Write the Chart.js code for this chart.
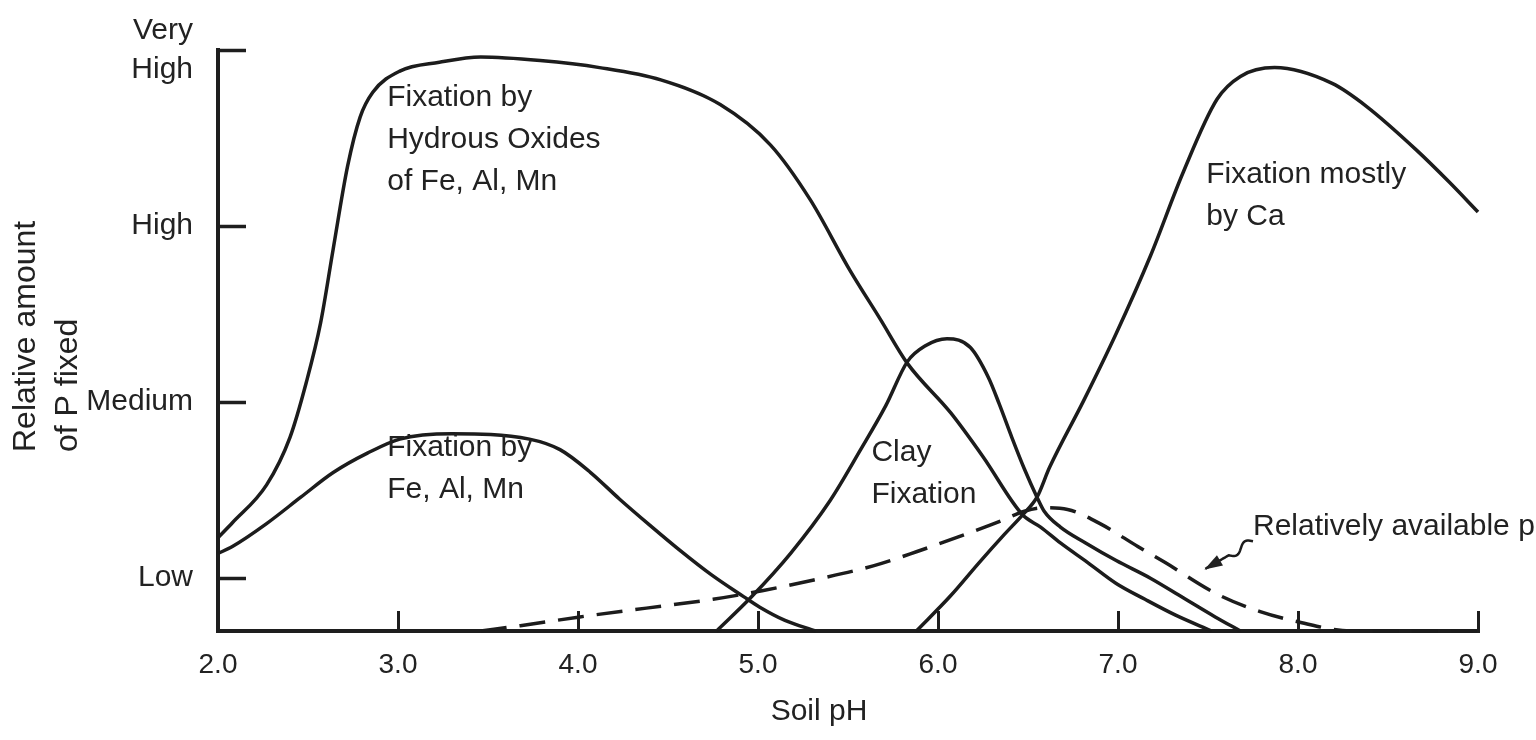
<!DOCTYPE html>
<html>
<head>
<meta charset="utf-8">
<title>Relative amount of P fixed vs soil pH</title>
<script src="https://cdn.jsdelivr.net/npm/chart.js@4.4.1/dist/chart.umd.min.js"></script>
<style>
  html, body { margin: 0; padding: 0; background: #fff; }
  #wrap { width: 1536px; height: 740px; position: relative; }
</style>
</head>
<body>
<div id="wrap"><canvas id="chart"></canvas></div>
<script>
// Axes
const xTicks = [2, 3, 4, 5, 6, 7, 8, 9];
const yTicks = [1, 2, 3, 4];
const yTickLabels = ['Low', 'Medium', 'High', ['Very', 'High']];

// Curves: x = soil pH, y = relative amount (1 Low .. 4 Very High, 0.7 = axis floor)
const hydrousPH  = [2.00, 2.08, 2.27, 2.40, 2.49, 2.57, 2.64, 2.72, 2.79, 2.86, 3.01, 3.23, 3.46, 3.79, 4.12, 4.46, 4.79, 5.07, 5.29, 5.51, 5.68, 5.83, 6.07, 6.25, 6.47, 6.57, 6.68, 6.83, 6.99, 7.15, 7.32, 7.52];
const hydrousAmt = [1.23, 1.315, 1.53, 1.80, 2.11, 2.45, 2.87, 3.34, 3.62, 3.76, 3.88, 3.93, 3.96, 3.94, 3.90, 3.83, 3.69, 3.46, 3.15, 2.75, 2.47, 2.22, 1.94, 1.69, 1.36, 1.29, 1.20, 1.09, 0.97, 0.88, 0.79, 0.70];

const feAlMnPH  = [2.00, 2.08, 2.27, 2.46, 2.64, 2.83, 3.01, 3.30, 3.73, 3.90, 4.07, 4.23, 4.40, 4.57, 4.74, 4.92, 5.01, 5.15, 5.32];
const feAlMnAmt = [1.14, 1.18, 1.31, 1.46, 1.60, 1.71, 1.79, 1.82, 1.79, 1.73, 1.60, 1.45, 1.30, 1.155, 1.02, 0.895, 0.835, 0.76, 0.70];

const clayPH  = [4.77, 4.96, 5.18, 5.40, 5.57, 5.71, 5.83, 5.93, 6.05, 6.18, 6.28, 6.34, 6.41, 6.48, 6.55, 6.59, 6.68, 6.82, 6.99, 7.18, 7.36, 7.54, 7.68];
const clayAmt = [0.70, 0.89, 1.14, 1.44, 1.73, 1.98, 2.23, 2.32, 2.36, 2.31, 2.14, 1.99, 1.80, 1.62, 1.46, 1.38, 1.29, 1.20, 1.10, 1.00, 0.89, 0.78, 0.70];

const calciumPH  = [5.88, 6.07, 6.23, 6.37, 6.47, 6.55, 6.62, 6.81, 6.99, 7.18, 7.36, 7.55, 7.68, 7.87, 8.19, 8.38, 8.66, 8.84, 9.00];
const calciumAmt = [0.70, 0.90, 1.09, 1.25, 1.36, 1.46, 1.63, 2.01, 2.39, 2.83, 3.30, 3.72, 3.85, 3.90, 3.81, 3.68, 3.43, 3.25, 3.08];

const availablePH  = [3.46, 3.68, 4.01, 4.38, 4.75, 5.03, 5.31, 5.64, 5.88, 6.18, 6.36, 6.48, 6.59, 6.72, 6.90, 7.11, 7.26, 7.55, 7.79, 8.01, 8.29, 9.00];
const availableAmt = [0.70, 0.73, 0.78, 0.83, 0.88, 0.93, 0.99, 1.07, 1.15, 1.26, 1.33, 1.38, 1.40, 1.39, 1.31, 1.18, 1.09, 0.91, 0.81, 0.75, 0.70, 0.70];

// Curve labels, placed in data units
const notes = [
    { lines: ['Fixation by', 'Hydrous Oxides', 'of Fe, Al, Mn'], ph: 2.94, amt: 3.73 },
    { lines: ['Fixation by', 'Fe, Al, Mn'], ph: 2.94, amt: 1.74 },
    { lines: ['Clay', 'Fixation'], ph: 5.63, amt: 1.71 },
    { lines: ['Fixation mostly', 'by Ca'], ph: 7.49, amt: 3.29 },
    { lines: ['Relatively available p'], ph: 7.75, amt: 1.29 }
];
const arrowFrom = { ph: 7.75, amt: 1.21 };
const arrowTo = { ph: 7.48, amt: 1.05 };

const axisInk = '#1e1e1e';
const lineInk = '#1c1c1c';
const textInk = '#222222';
const FONT = "'Liberation Sans', Arial, sans-serif";

const curve = (xs, ys, dashed) => ({
    data: xs.map((x, i) => ({ x, y: ys[i] })),
    borderColor: lineInk,
    borderWidth: 3.5,
    borderDash: dashed ? [26, 13] : [],
    pointRadius: 0,
    fill: false,
    cubicInterpolationMode: 'monotone',
    clip: 6
});

const overlay = {
    id: 'overlay',
    afterDraw(chart) {
        const { ctx, scales: { x, y } } = chart;
        ctx.save();
        ctx.fillStyle = textInk;
        ctx.strokeStyle = lineInk;
        ctx.font = `30px ${FONT}`;
        ctx.textAlign = 'left';
        ctx.textBaseline = 'middle';
        notes.forEach(n => {
            const px = x.getPixelForValue(n.ph), py = y.getPixelForValue(n.amt);
            n.lines.forEach((t, i) => ctx.fillText(t, px, py + i * 42));
        });

        // squiggly pointer to the dashed curve
        const x0 = x.getPixelForValue(arrowFrom.ph), y0 = y.getPixelForValue(arrowFrom.amt);
        const x1 = x.getPixelForValue(arrowTo.ph), y1 = y.getPixelForValue(arrowTo.amt);
        const dx = x1 - x0, dy = y1 - y0, len = Math.hypot(dx, dy);
        const ux = dx / len, uy = dy / len, nx = -uy, ny = ux;
        ctx.lineWidth = 2.5;
        ctx.beginPath();
        ctx.moveTo(x0, y0);
        for (let t = 0; t <= 1; t += 0.02) {
            const d = t * len;
            const w = t < 0.5 ? Math.sin(t / 0.5 * Math.PI * 2) * 4 : 0;
            ctx.lineTo(x0 + ux * d + nx * w, y0 + uy * d + ny * w);
        }
        ctx.stroke();
        ctx.beginPath();
        ctx.moveTo(x1, y1);
        ctx.lineTo(x1 - ux * 18 + nx * 6, y1 - uy * 18 + ny * 6);
        ctx.lineTo(x1 - ux * 18 - nx * 6, y1 - uy * 18 - ny * 6);
        ctx.closePath();
        ctx.fill();

        // axis titles
        ctx.textAlign = 'center';
        ctx.textBaseline = 'middle';
        ctx.fillText('Soil pH', 819, 712);
        ctx.font = `32px ${FONT}`;
        ctx.textAlign = 'left';
        ctx.textBaseline = 'alphabetic';
        [['Relative amount', 35], ['of P fixed', 77]].forEach(([t, bx]) => {
            ctx.save();
            ctx.translate(bx, 452);
            ctx.rotate(-Math.PI / 2);
            ctx.fillText(t, 0, 0);
            ctx.restore();
        });
        ctx.restore();
    }
};

new Chart(document.getElementById('chart'), {
    type: 'line',
    data: {
        datasets: [
            curve(hydrousPH, hydrousAmt),
            curve(feAlMnPH, feAlMnAmt),
            curve(clayPH, clayAmt),
            curve(calciumPH, calciumAmt),
            curve(availablePH, availableAmt, true)
        ]
    },
    options: {
        responsive: true, maintainAspectRatio: false,
        animation: false,
        layout: { padding: { top: 50, right: 58, left: 0, bottom: 0 } },
        plugins: { legend: { display: false }, tooltip: { enabled: false } },
        scales: {
            x: {
                type: 'linear', min: 2, max: 9,
                afterBuildTicks: s => { s.ticks = xTicks.map(v => ({ value: v })); },
                afterFit: s => { s.height = 109; s.paddingLeft = 0; s.paddingRight = 0; },
                border: { display: true, width: 4, color: axisInk },
                grid: { drawOnChartArea: false, drawTicks: true, tickLength: -20, tickWidth: 3, tickColor: axisInk },
                ticks: {
                    color: textInk, font: { family: FONT, size: 28 },
                    padding: 37, maxRotation: 0, autoSkip: false,
                    callback: v => v.toFixed(1)
                }
            },
            y: {
                type: 'linear', min: 0.7, max: 4,
                afterBuildTicks: s => { s.ticks = yTicks.map(v => ({ value: v })); },
                afterFit: s => { s.width = 218; s.paddingTop = 0; s.paddingBottom = 0; },
                border: { display: true, width: 4, color: axisInk },
                grid: { drawOnChartArea: false, drawTicks: true, tickLength: -28, tickWidth: 3.5, tickColor: axisInk },
                ticks: {
                    color: textInk, font: { family: FONT, size: 30, lineHeight: 1.3 },
                    padding: 53, autoSkip: false,
                    callback: (v, i) => yTickLabels[i]
                }
            }
        }
    },
    plugins: [overlay]
});
</script>
</body>
</html>
